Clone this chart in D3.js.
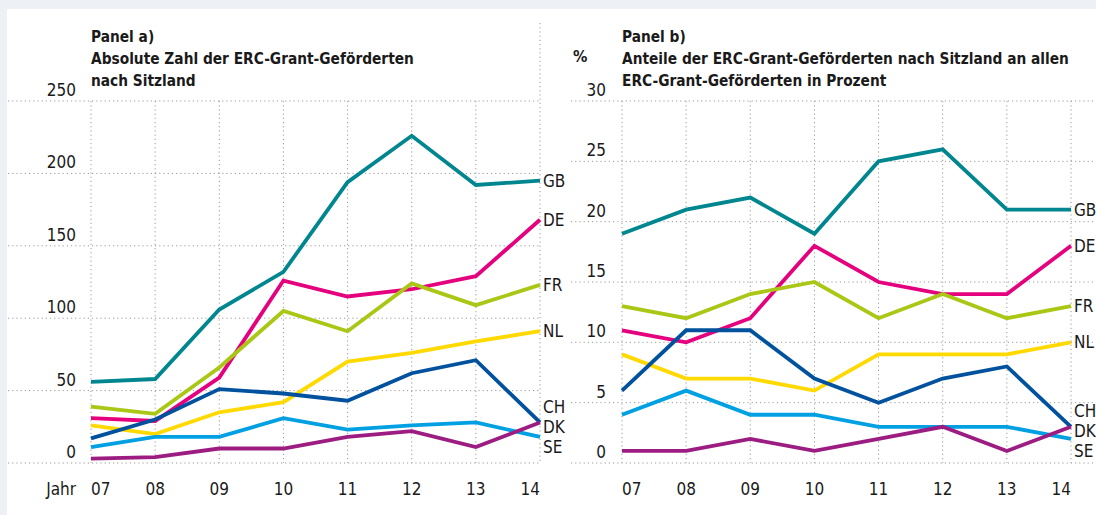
<!DOCTYPE html>
<html>
<head>
<meta charset="utf-8">
<script src="https://cdn.jsdelivr.net/npm/d3@7"></script>
<style>
  body { margin: 0; background: #fff; }
  svg text { font-family: "DejaVu Sans Condensed", "Liberation Sans Narrow", "DejaVu Sans", sans-serif; font-stretch: condensed; fill: #1a1a1a; }
</style>
</head>
<body>
<svg id="chart" width="1096" height="515"></svg>
<script>
// Years on the x axis
const years = ["07", "08", "09", "10", "11", "12", "13", "14"];
const countries = ["GB", "DE", "FR", "NL", "CH", "DK", "SE"];
const colors = ["#00868f", "#e5007e", "#a9c714", "#ffd900", "#00519e", "#00a0e3", "#9c1c81"];

// Panel a) absolute numbers
const gbAbs = [56, 58, 106, 132, 194, 226, 192, 195];
const deAbs = [31, 29, 59, 126, 115, 120, 129, 168];
const frAbs = [39, 34, 66, 105, 91, 124, 109, 123];
const nlAbs = [26, 20, 35, 42, 70, 76, 84, 91];
const chAbs = [17, 30, 51, 48, 43, 62, 71, 28];
const dkAbs = [11, 18, 18, 31, 23, 26, 28, 18];
const seAbs = [3, 4, 10, 10, 18, 22, 11, 28];

// Panel b) shares in percent
const gbPct = [19, 21, 22, 19, 25, 26, 21, 21];
const dePct = [11, 10, 12, 18, 15, 14, 14, 18];
const frPct = [13, 12, 14, 15, 12, 14, 12, 13];
const nlPct = [9, 7, 7, 6, 9, 9, 9, 10];
const chPct = [6, 11, 11, 7, 5, 7, 8, 3];
const dkPct = [4, 6, 4, 4, 3, 3, 3, 2];
const sePct = [1, 1, 2, 1, 2, 3, 1, 3];

const absTicks = [0, 50, 100, 150, 200, 250];
const pctTicks = [0, 5, 10, 15, 20, 25, 30];

const titleA = ["Panel a)", "Absolute Zahl der ERC-Grant-Geförderten", "nach Sitzland"];
const titleB = ["Panel b)", "Anteile der ERC-Grant-Geförderten nach Sitzland an allen", "ERC-Grant-Geförderten in Prozent"];

const svg = d3.select("#chart");

// light frame strips at the top and left
svg.append("rect").attr("x", 0).attr("y", 0).attr("width", 1096).attr("height", 9).attr("fill", "#edf1f5");
svg.append("rect").attr("x", 0).attr("y", 0).attr("width", 7).attr("height", 515).attr("fill", "#edf1f5");

const plotTop = 101, plotBottom = 463;

function drawPanel(opts) {
  const x = d3.scalePoint().domain(years).range([opts.x0, opts.x1]);
  const y = d3.scaleLinear().domain([0, opts.max]).range([plotBottom, plotTop]);
  const g = svg.append("g");

  // horizontal dotted gridlines
  g.selectAll(".hgrid").data(opts.ticks).join("line")
    .attr("x1", opts.gridStart).attr("x2", opts.gridEnd)
    .attr("y1", d => y(d)).attr("y2", d => y(d))
    .attr("stroke", "#9a9a9a").attr("stroke-width", 1).attr("stroke-dasharray", "1.2,3");

  // vertical dotted gridlines
  g.selectAll(".vgrid").data(years).join("line")
    .attr("x1", d => x(d)).attr("x2", d => x(d))
    .attr("y1", (d, i) => (opts.separator && i == years.length - 1) ? 23 : plotTop)
    .attr("y2", plotBottom)
    .attr("stroke", "#9a9a9a").attr("stroke-width", 1).attr("stroke-dasharray", "1.2,3");

  // y tick labels, sitting just above their gridline
  g.selectAll(".ylab").data(opts.ticks).join("text")
    .attr("x", opts.labelX).attr("y", d => y(d) - 5)
    .attr("text-anchor", "end").style("font-size", "17px")
    .text(d => d);

  // year labels
  g.selectAll(".xlab").data(years).join("text")
    .attr("x", d => x(d)).attr("y", 495)
    .attr("text-anchor", (d, i) => i == 0 ? "start" : (i == years.length - 1 ? "end" : "middle"))
    .style("font-size", "17px")
    .text(d => d);

  // title
  g.selectAll(".title").data(opts.title).join("text")
    .attr("x", opts.x0).attr("y", (d, i) => 42 + i * 22)
    .style("font-size", "15.3px").style("font-weight", "bold")
    .text(d => d);

  // lines
  const line = d3.line().x((d, i) => x(years[i])).y(d => y(d));
  opts.series.forEach((vals, k) => {
    g.append("path")
      .attr("d", line(vals))
      .attr("fill", "none")
      .attr("stroke", colors[k])
      .attr("stroke-width", 3.8)
      .attr("stroke-linejoin", "miter");
  });

  // end labels, pushed apart where they would overlap
  const gap = 20;
  let labels = countries.map((c, k) => ({ name: c, y: y(opts.series[k][years.length - 1]) }));
  labels.sort((a, b) => a.y - b.y || countries.indexOf(a.name) - countries.indexOf(b.name));
  // keep country order inside clusters
  let clusters = [];
  labels.forEach(l => {
    clusters.push({ items: [l], y: l.y });
    let merged = true;
    while (merged && clusters.length > 1) {
      merged = false;
      const last = clusters[clusters.length - 1], prev = clusters[clusters.length - 2];
      const prevBottom = prev.y + (prev.items.length - 1) * gap / 2;
      const lastTop = last.y - (last.items.length - 1) * gap / 2;
      if (lastTop - prevBottom < gap) {
        const items = prev.items.concat(last.items);
        items.sort((a, b) => countries.indexOf(a.name) - countries.indexOf(b.name));
        const mean = d3.mean(items, d => d.y);
        clusters.splice(clusters.length - 2, 2, { items: items, y: mean });
        merged = true;
      }
    }
  });
  clusters.forEach(cl => {
    cl.items.forEach((l, i) => {
      l.ly = cl.y + (i - (cl.items.length - 1) / 2) * gap;
    });
  });
  g.selectAll(".endlab").data(labels).join("text")
    .attr("x", opts.x1 + 3).attr("y", d => d.ly)
    .attr("dy", "0.36em")
    .style("font-size", "17px")
    .text(d => d.name);
}

drawPanel({
  x0: 91, x1: 540, max: 250, ticks: absTicks,
  gridStart: 8, gridEnd: 540, labelX: 76, separator: true,
  title: titleA,
  series: [gbAbs, deAbs, frAbs, nlAbs, chAbs, dkAbs, seAbs]
});

drawPanel({
  x0: 622, x1: 1071, max: 30, ticks: pctTicks,
  gridStart: 571, gridEnd: 1096, labelX: 606, separator: false,
  title: titleB,
  series: [gbPct, dePct, frPct, nlPct, chPct, dkPct, sePct]
});

svg.append("text").attr("x", 76).attr("y", 495).attr("text-anchor", "end")
  .style("font-size", "17px").text("Jahr");
svg.append("text").attr("x", 573).attr("y", 62)
  .style("font-size", "16px").style("font-weight", "bold").text("%");
</script>
</body>
</html>
